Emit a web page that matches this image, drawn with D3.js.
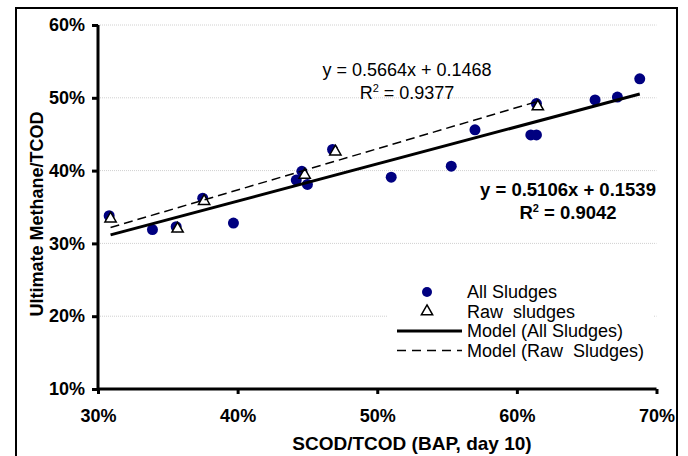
<!DOCTYPE html>
<html>
<head>
<meta charset="utf-8">
<script src="https://cdn.jsdelivr.net/npm/d3@7"></script>
<style>
  body { margin: 0; background: #fff; }
  svg text { font-family: Arial, "Liberation Sans", sans-serif; }
</style>
</head>
<body>
<svg id="chart" width="688" height="456"></svg>
<script>
"use strict";

// === Data (fractions) ===
let allX = [0.308, 0.339, 0.356, 0.375, 0.397, 0.442, 0.446, 0.450, 0.468, 0.510, 0.553, 0.570, 0.610, 0.614, 0.614, 0.656, 0.672, 0.688];
let allY = [0.338, 0.319, 0.323, 0.362, 0.328, 0.387, 0.399, 0.381, 0.429, 0.391, 0.406, 0.456, 0.449, 0.449, 0.492, 0.497, 0.501, 0.526];
let rawX = [0.309, 0.357, 0.376, 0.448, 0.470, 0.615];
let rawY = [0.334, 0.320, 0.358, 0.394, 0.426, 0.488];

let xTicks = [0.3, 0.4, 0.5, 0.6, 0.7];
let yTicks = [0.1, 0.2, 0.3, 0.4, 0.5, 0.6];

// trendlines: slope, intercept, x range
let fitAll = { m: 0.5106, b: 0.1539, x0: 0.309, x1: 0.688 };
let fitRaw = { m: 0.5664, b: 0.1468, x0: 0.309, x1: 0.615 };

let legendLabels = ["All Sludges", "Raw  sludges", "Model (All Sludges)", "Model (Raw  Sludges)"];

// === Setup ===
let svg = d3.select("#chart");
let x = d3.scaleLinear().domain([0.3, 0.7]).range([98, 656.5]);
let y = d3.scaleLinear().domain([0.1, 0.6]).range([389, 25]);
let pct = d => Math.round(d * 100) + "%";

// outer frame
svg.append("rect")
  .attr("x", 16).attr("y", 8)
  .attr("width", 661).attr("height", 460)
  .attr("fill", "none").attr("stroke", "black").attr("stroke-width", 2);

// gridlines
svg.append("g")
  .selectAll("line")
  .data(yTicks.slice(1))
  .join("line")
  .attr("x1", x(0.3)).attr("x2", x(0.7))
  .attr("y1", d => y(d)).attr("y2", d => y(d))
  .attr("stroke", "#d0d0d0").attr("stroke-width", 1)
  .attr("stroke-dasharray", "1,1");

// axes
let yAxis = svg.append("g")
  .attr("transform", `translate(${x(0.3)},0)`)
  .call(d3.axisLeft(y).tickValues(yTicks).tickFormat(pct).tickSize(6).tickPadding(7));
let xAxis = svg.append("g")
  .attr("transform", `translate(0,${y(0.1)})`)
  .call(d3.axisBottom(x).tickValues(xTicks).tickFormat(pct).tickSize(5).tickPadding(15));

[yAxis, xAxis].forEach(g => {
  g.select(".domain").remove();
  g.selectAll(".tick line").attr("stroke-width", 3);
  g.selectAll(".tick text")
    .attr("font-size", 18).attr("font-weight", "bold")
    .style("font-family", "Arial, 'Liberation Sans', sans-serif");
});
// axis lines
svg.append("line").attr("x1", x(0.3)).attr("x2", x(0.3)).attr("y1", y(0.6)).attr("y2", y(0.1))
  .attr("stroke", "black").attr("stroke-width", 3);
svg.append("line").attr("x1", x(0.3)).attr("x2", x(0.7)).attr("y1", y(0.1)).attr("y2", y(0.1))
  .attr("stroke", "black").attr("stroke-width", 3);

// axis titles
svg.append("text")
  .attr("x", 412).attr("y", 450)
  .attr("text-anchor", "middle")
  .attr("font-size", 19).attr("font-weight", "bold")
  .text("SCOD/TCOD (BAP, day 10)");
svg.append("text")
  .attr("transform", "translate(43,214) rotate(-90)")
  .attr("text-anchor", "middle")
  .attr("font-size", 18).attr("font-weight", "bold")
  .text("Ultimate Methane/TCOD");

// legend background (drawn before marks)
svg.append("rect")
  .attr("x", 388).attr("y", 279).attr("width", 266).attr("height", 82)
  .attr("fill", "white");

// points
svg.append("g")
  .selectAll("circle")
  .data(allX.map((v, i) => [v, allY[i]]))
  .join("circle")
  .attr("cx", d => x(d[0])).attr("cy", d => y(d[1]))
  .attr("r", 5.5)
  .attr("fill", "#000080");

let tri = d3.symbol().type(d3.symbolTriangle).size(55);
svg.append("g")
  .selectAll("path")
  .data(rawX.map((v, i) => [v, rawY[i]]))
  .join("path")
  .attr("d", tri)
  .attr("transform", d => `translate(${x(d[0])},${y(d[1])})`)
  .attr("fill", "white").attr("stroke", "black").attr("stroke-width", 1.5);

// trendlines
function trend(f, width, dash) {
  svg.append("line")
    .attr("x1", x(f.x0)).attr("y1", y(f.m * f.x0 + f.b))
    .attr("x2", x(f.x1)).attr("y2", y(f.m * f.x1 + f.b))
    .attr("stroke", "black").attr("stroke-width", width)
    .attr("stroke-dasharray", dash);
}
trend(fitAll, 3, null);
trend(fitRaw, 1.5, "9,5");

// equations
function equation(cx, cy, eq, r2, bold) {
  let w = bold ? "bold" : "normal";
  let fs = bold ? 18.5 : 18;
  svg.append("text")
    .attr("x", cx).attr("y", cy)
    .attr("text-anchor", "middle")
    .attr("font-size", fs).attr("font-weight", w)
    .text(eq);
  let t = svg.append("text")
    .attr("x", cx).attr("y", cy + 23)
    .attr("text-anchor", "middle")
    .attr("font-size", fs).attr("font-weight", w);
  t.append("tspan").text("R");
  t.append("tspan").attr("dy", -7).attr("font-size", 11).text("2");
  t.append("tspan").attr("dy", 7).text(" = " + r2);
}
equation(407, 76, "y = 0.5664x + 0.1468", "0.9377", false);
equation(568, 196, "y = 0.5106x + 0.1539", "0.9042", true);

// legend
let legRows = [292, 311.5, 331, 350.5];
let leg = svg.append("g");
leg.append("circle").attr("cx", 427).attr("cy", legRows[0]).attr("r", 5).attr("fill", "#000080");
leg.append("path").attr("d", tri)
  .attr("transform", `translate(427,${legRows[1]})`)
  .attr("fill", "white").attr("stroke", "black").attr("stroke-width", 1.5);
leg.append("line").attr("x1", 397).attr("x2", 462).attr("y1", legRows[2]).attr("y2", legRows[2])
  .attr("stroke", "black").attr("stroke-width", 3);
leg.append("line").attr("x1", 397).attr("x2", 462).attr("y1", legRows[3]).attr("y2", legRows[3])
  .attr("stroke", "black").attr("stroke-width", 1.5).attr("stroke-dasharray", "9,6");
leg.selectAll("text")
  .data(legendLabels)
  .join("text")
  .attr("x", 467).attr("y", (d, i) => legRows[i] + 6)
  .attr("font-size", 18)
  .style("white-space", "pre")
  .attr("xml:space", "preserve")
  .text(d => d);
</script>
</body>
</html>
